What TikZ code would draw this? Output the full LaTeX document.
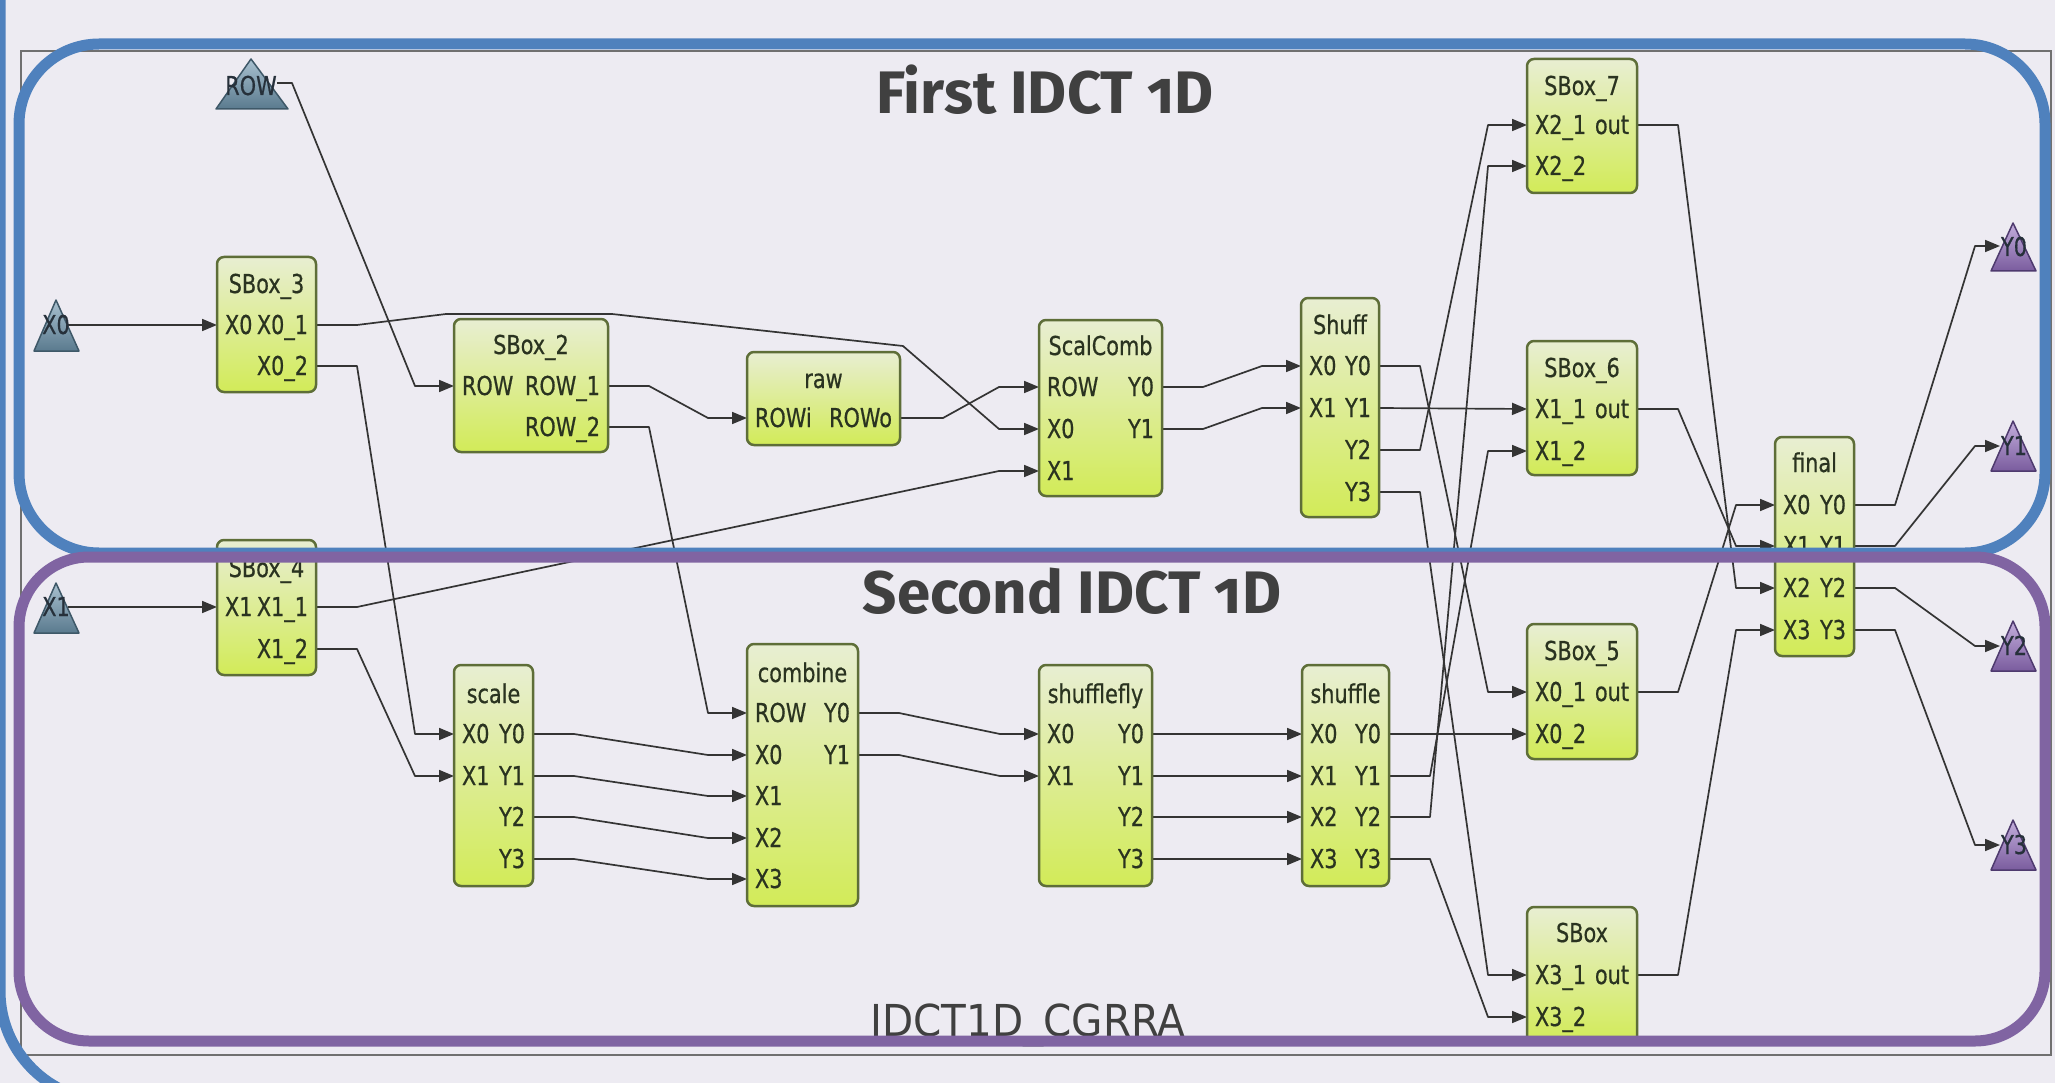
\documentclass[tikz,border=0pt]{standalone}
\usepackage{fontspec}
\usetikzlibrary{arrows.meta}
\newfontfamily\blkfont[FakeStretch=0.8,FakeBold=0.6]{DejaVu Sans}
\newfontfamily\capfont[FakeStretch=0.92]{DejaVu Sans}
\newfontfamily\ttlfont[Numbers=OldStyle]{Fira Sans}
\definecolor{bgc}{HTML}{EDEBF2}
\definecolor{bluec}{HTML}{4F81BD}
\definecolor{purc}{HTML}{8064A2}
\definecolor{framec}{HTML}{707070}
\definecolor{wirec}{HTML}{343434}
\definecolor{blkborder}{HTML}{5E6E38}
\definecolor{blktop}{HTML}{E8EED2}
\definecolor{blkbot}{HTML}{D2EB58}
\definecolor{txtc}{HTML}{2A3320}
\definecolor{ttlc}{HTML}{404040}
\definecolor{tribtop}{HTML}{A9C1D0}
\definecolor{tribbot}{HTML}{5A7A8E}
\definecolor{tribdraw}{HTML}{3E5868}
\definecolor{triptop}{HTML}{C3AEDC}
\definecolor{tripbot}{HTML}{7A5C9E}
\definecolor{tripdraw}{HTML}{4E3A6E}
\definecolor{tritxt}{HTML}{26303A}
\tikzset{
  wire/.style={draw=wirec, line width=1.7pt, line join=round},
  arr/.style={wire, -{Triangle[length=15pt,width=12pt]}},
  blkbox/.style={draw=blkborder, line width=2.5pt, rounded corners=7pt, top color=blktop, bottom color=blkbot, inner sep=0pt, outer sep=0pt},
  lbl/.style={font=\blkfont\fontsize{26}{30}\selectfont, text=txtc, inner sep=0pt, outer sep=0pt},
  trilbl/.style={font=\blkfont\fontsize{26}{30}\selectfont, text=tritxt, inner sep=0pt, outer sep=0pt},
  tribl/.style={top color=tribtop, bottom color=tribbot, draw=tribdraw, line width=1.5pt, line join=round},
  tripu/.style={top color=triptop, bottom color=tripbot, draw=tripdraw, line width=1.5pt, line join=round},
  ttl/.style={font=\ttlfont\bfseries\fontsize{60}{66}\selectfont, text=ttlc, inner sep=0pt, outer sep=0pt},
  framebl/.style={draw=bluec, line width=11pt},
  framepu/.style={draw=purc, line width=11pt},
}
\newcommand\mkblk[7]{%
  \node[blkbox, anchor=north west, minimum width={#4-#2}, minimum height={#5-#3}] (#1) at (#2,#3) {};
  \node[lbl, anchor=base] (#1t) at ({(#2+#4)/2},#7+9) {#6};}
\newcommand\portL[4]{\node[lbl, anchor=base west] (#1) at (#2+8,#3+9) {#4};}
\newcommand\portR[4]{\node[lbl, anchor=base east] (#1) at (#2-8,#3+9) {#4};}
\newcommand\conn[2]{\draw[arr] (#1) -- ++(41,0) -- ([xshift=-39pt]#2) -- (#2);}
\begin{document}
\begin{tikzpicture}[x=1pt,y=-1pt]
\useasboundingbox (0,0) rectangle (2055,1083);
\clip (0,0) rectangle (2055,1083);
\fill[bgc] (0,0) rectangle (2055,1083);
\draw[framec, line width=2pt] (21,51) rectangle (2051,1055);

% port coordinates
\coordinate (inX0) at (68,325);
\coordinate (inROW) at (277,83);
\coordinate (inX1) at (68,607);
\coordinate (sb3-X0) at (217,325);
\coordinate (sb3-X01) at (316,325);
\coordinate (sb3-X02) at (316,366);
\coordinate (sb2-ROW) at (454,386);
\coordinate (sb2-R1) at (608,386);
\coordinate (sb2-R2) at (608,427);
\coordinate (sb4-X1) at (217,607);
\coordinate (sb4-X11) at (316,607);
\coordinate (sb4-X12) at (316,649);
\coordinate (scl-X0) at (454,734);
\coordinate (scl-X1) at (454,776);
\coordinate (scl-Y0) at (533,734);
\coordinate (scl-Y1) at (533,776);
\coordinate (scl-Y2) at (533,817);
\coordinate (scl-Y3) at (533,859);
\coordinate (raw-i) at (747,418);
\coordinate (raw-o) at (900,418);
\coordinate (sc-ROW) at (1039,387);
\coordinate (sc-X0) at (1039,429);
\coordinate (sc-X1) at (1039,471);
\coordinate (sc-Y0) at (1162,387);
\coordinate (sc-Y1) at (1162,429);
\coordinate (cmb-ROW) at (747,713);
\coordinate (cmb-X0) at (747,755);
\coordinate (cmb-X1) at (747,796);
\coordinate (cmb-X2) at (747,838);
\coordinate (cmb-X3) at (747,879);
\coordinate (cmb-Y0) at (858,713);
\coordinate (cmb-Y1) at (858,755);
\coordinate (shf-X0) at (1301,366);
\coordinate (shf-X1) at (1301,408);
\coordinate (shf-Y0) at (1379,366);
\coordinate (shf-Y1) at (1379,408);
\coordinate (shf-Y2) at (1379,450);
\coordinate (shf-Y3) at (1379,492);
\coordinate (sfl-X0) at (1039,734);
\coordinate (sfl-X1) at (1039,776);
\coordinate (sfl-Y0) at (1152,734);
\coordinate (sfl-Y1) at (1152,776);
\coordinate (sfl-Y2) at (1152,817);
\coordinate (sfl-Y3) at (1152,859);
\coordinate (shu-X0) at (1302,734);
\coordinate (shu-X1) at (1302,776);
\coordinate (shu-X2) at (1302,817);
\coordinate (shu-X3) at (1302,859);
\coordinate (shu-Y0) at (1389,734);
\coordinate (shu-Y1) at (1389,776);
\coordinate (shu-Y2) at (1389,817);
\coordinate (shu-Y3) at (1389,859);
\coordinate (sb7-i1) at (1527,125);
\coordinate (sb7-i2) at (1527,166);
\coordinate (sb7-o) at (1637,125);
\coordinate (sb6-i1) at (1527,409);
\coordinate (sb6-i2) at (1527,451);
\coordinate (sb6-o) at (1637,409);
\coordinate (sb5-i1) at (1527,692);
\coordinate (sb5-i2) at (1527,734);
\coordinate (sb5-o) at (1637,692);
\coordinate (sbx-i1) at (1527,975);
\coordinate (sbx-i2) at (1527,1017);
\coordinate (sbx-o) at (1637,975);
\coordinate (fin-X0) at (1775,505);
\coordinate (fin-X1) at (1775,546);
\coordinate (fin-X2) at (1775,588);
\coordinate (fin-X3) at (1775,630);
\coordinate (fin-Y0) at (1854,505);
\coordinate (fin-Y1) at (1854,546);
\coordinate (fin-Y2) at (1854,588);
\coordinate (fin-Y3) at (1854,630);
\coordinate (outY0) at (2000,246);
\coordinate (outY1) at (2000,446);
\coordinate (outY2) at (2000,646);
\coordinate (outY3) at (2000,845);

% connectors
\draw[arr] (inX0) -- (sb3-X0);
\draw[arr] (inX1) -- (sb4-X1);
\draw[arr] (inROW) -- ++(15,0) -- ([xshift=-39pt]sb2-ROW) -- (sb2-ROW);
\draw[arr] (sb3-X01) -- ++(41,0) -- (446,314) -- (612,314) -- (903,346) -- ([xshift=-40pt]sc-X0) -- (sc-X0);
\conn{sb3-X02}{scl-X0}
\draw[arr] (sb4-X11) -- ++(41,0) -- ([xshift=-40pt]sc-X1) -- (sc-X1);
\conn{sb4-X12}{scl-X1}
\conn{sb2-R1}{raw-i}
\conn{sb2-R2}{cmb-ROW}
\draw[arr] (raw-o) -- ++(43,0) -- ([xshift=-40pt]sc-ROW) -- (sc-ROW);
\conn{scl-Y0}{cmb-X0}
\conn{scl-Y1}{cmb-X1}
\conn{scl-Y2}{cmb-X2}
\conn{scl-Y3}{cmb-X3}
\conn{sc-Y0}{shf-X0}
\conn{sc-Y1}{shf-X1}
\conn{cmb-Y0}{sfl-X0}
\conn{cmb-Y1}{sfl-X1}
\draw[arr] (sfl-Y0) -- (shu-X0);
\draw[arr] (sfl-Y1) -- (shu-X1);
\draw[arr] (sfl-Y2) -- (shu-X2);
\draw[arr] (sfl-Y3) -- (shu-X3);
\conn{shf-Y0}{sb5-i1}
\draw[arr] (shf-Y1) -- (sb6-i1);
\conn{shf-Y2}{sb7-i1}
\conn{shf-Y3}{sbx-i1}
\draw[arr] (shu-Y0) -- (sb5-i2);
\conn{shu-Y1}{sb6-i2}
\conn{shu-Y2}{sb7-i2}
\conn{shu-Y3}{sbx-i2}
\conn{sb7-o}{fin-X2}
\conn{sb6-o}{fin-X1}
\conn{sb5-o}{fin-X0}
\conn{sbx-o}{fin-X3}
\draw[arr] (fin-Y0) -- ++(41,0) -- ([xshift=-25pt]outY0) -- (outY0);
\draw[arr] (fin-Y1) -- ++(41,0) -- ([xshift=-25pt]outY1) -- (outY1);
\draw[arr] (fin-Y2) -- ++(41,0) -- ([xshift=-25pt]outY2) -- (outY2);
\draw[arr] (fin-Y3) -- ++(41,0) -- ([xshift=-25pt]outY3) -- (outY3);

% blocks
\mkblk{sb3}{217}{257}{316}{392}{SBox\_3}{284}
\portL{sb3a}{217}{325}{X0}\portR{sb3b}{316}{325}{X0\_1}\portR{sb3c}{316}{366}{X0\_2}
\mkblk{sb2}{454}{319}{608}{452}{SBox\_2}{345}
\portL{sb2a}{454}{386}{ROW}\portR{sb2b}{608}{386}{ROW\_1}\portR{sb2c}{608}{427}{ROW\_2}
\mkblk{sb4}{217}{540}{316}{675}{SBox\_4}{568}
\portL{sb4a}{217}{607}{X1}\portR{sb4b}{316}{607}{X1\_1}\portR{sb4c}{316}{649}{X1\_2}
\mkblk{scl}{454}{665}{533}{886}{scale}{694}
\portL{scla}{454}{734}{X0}\portR{sclb}{533}{734}{Y0}
\portL{sclc}{454}{776}{X1}\portR{scld}{533}{776}{Y1}
\portR{scle}{533}{817}{Y2}\portR{sclf}{533}{859}{Y3}
\mkblk{raw}{747}{352}{900}{445}{raw}{379}
\portL{rawa}{747}{418}{ROWi}\portR{rawb}{900}{418}{ROWo}
\mkblk{sc}{1039}{320}{1162}{496}{ScalComb}{346}
\portL{sca}{1039}{387}{ROW}\portR{scb}{1162}{387}{Y0}
\portL{scc}{1039}{429}{X0}\portR{scd}{1162}{429}{Y1}
\portL{sce}{1039}{471}{X1}
\mkblk{cmb}{747}{644}{858}{906}{combine}{673}
\portL{cmba}{747}{713}{ROW}\portR{cmbb}{858}{713}{Y0}
\portL{cmbc}{747}{755}{X0}\portR{cmbd}{858}{755}{Y1}
\portL{cmbe}{747}{796}{X1}\portL{cmbf}{747}{838}{X2}\portL{cmbg}{747}{879}{X3}
\mkblk{shf}{1301}{298}{1379}{517}{Shuff}{325}
\portL{shfa}{1301}{366}{X0}\portR{shfb}{1379}{366}{Y0}
\portL{shfc}{1301}{408}{X1}\portR{shfd}{1379}{408}{Y1}
\portR{shfe}{1379}{450}{Y2}\portR{shfg}{1379}{492}{Y3}
\mkblk{sfl}{1039}{665}{1152}{886}{shufflefly}{694}
\portL{sfla}{1039}{734}{X0}\portR{sflb}{1152}{734}{Y0}
\portL{sflc}{1039}{776}{X1}\portR{sfld}{1152}{776}{Y1}
\portR{sfle}{1152}{817}{Y2}\portR{sflf}{1152}{859}{Y3}
\mkblk{shu}{1302}{665}{1389}{886}{shuffle}{694}
\portL{shua}{1302}{734}{X0}\portR{shub}{1389}{734}{Y0}
\portL{shuc}{1302}{776}{X1}\portR{shud}{1389}{776}{Y1}
\portL{shue}{1302}{817}{X2}\portR{shuf}{1389}{817}{Y2}
\portL{shug}{1302}{859}{X3}\portR{shuh}{1389}{859}{Y3}
\mkblk{sb7}{1527}{59}{1637}{193}{SBox\_7}{86}
\portL{sb7a}{1527}{125}{X2\_1}\portR{sb7b}{1637}{125}{out}\portL{sb7c}{1527}{166}{X2\_2}
\mkblk{sb6}{1527}{341}{1637}{475}{SBox\_6}{368}
\portL{sb6a}{1527}{409}{X1\_1}\portR{sb6b}{1637}{409}{out}\portL{sb6c}{1527}{451}{X1\_2}
\mkblk{sb5}{1527}{624}{1637}{759}{SBox\_5}{651}
\portL{sb5a}{1527}{692}{X0\_1}\portR{sb5b}{1637}{692}{out}\portL{sb5c}{1527}{734}{X0\_2}
\mkblk{sbx}{1527}{907}{1637}{1043}{SBox}{933}
\portL{sbxa}{1527}{975}{X3\_1}\portR{sbxb}{1637}{975}{out}\portL{sbxc}{1527}{1017}{X3\_2}
\mkblk{fin}{1775}{437}{1854}{656}{final}{463}
\portL{fina}{1775}{505}{X0}\portR{finb}{1854}{505}{Y0}
\portL{finc}{1775}{546}{X1}\portR{find}{1854}{546}{Y1}
\portL{fine}{1775}{588}{X2}\portR{finf}{1854}{588}{Y2}
\portL{fing}{1775}{630}{X3}\portR{finh}{1854}{630}{Y3}

% port triangles
\shade[tribl] (251,59) -- (288,109) -- (216,109) -- cycle;
\node[trilbl, anchor=base] (tROW) at (251,95) {ROW};
\shade[tribl] (56,300) -- (79,351) -- (34,351) -- cycle;
\node[trilbl, anchor=base] (tX0) at (56,334) {X0};
\shade[tribl] (56,583) -- (79,633) -- (34,633) -- cycle;
\node[trilbl, anchor=base] (tX1) at (56,616) {X1};
\shade[tripu] (2013,223) -- (2036,271) -- (1991,271) -- cycle;
\node[trilbl, anchor=base] (tY0) at (2014,256) {Y0};
\shade[tripu] (2013,421) -- (2036,471) -- (1991,471) -- cycle;
\node[trilbl, anchor=base] (tY1) at (2014,455) {Y1};
\shade[tripu] (2013,621) -- (2036,671) -- (1991,671) -- cycle;
\node[trilbl, anchor=base] (tY2) at (2014,655) {Y2};
\shade[tripu] (2013,820) -- (2036,870) -- (1991,870) -- cycle;
\node[trilbl, anchor=base] (tY3) at (2014,854) {Y3};

% titles
\node[font=\capfont\fontsize{44}{48}\selectfont, text=ttlc, anchor=base, inner sep=0pt] (cap) at (1028,1036) {IDCT1D\_CGRRA};
\node[ttl, anchor=base] (t1) at (1045,114) {First IDCT 1D};
\node[ttl, anchor=base] (t2) at (1072,613) {Second IDCT 1D};

% frames
\draw[framebl, rounded corners=80pt] (19,44) rectangle (2045,553);
\draw[framepu, rounded corners=70pt] (19,557) rectangle (2045,1041);
\draw[framebl, rounded corners=110pt] (0,-40) -- (0,1101) -- (400,1101);
\end{tikzpicture}
\end{document}
